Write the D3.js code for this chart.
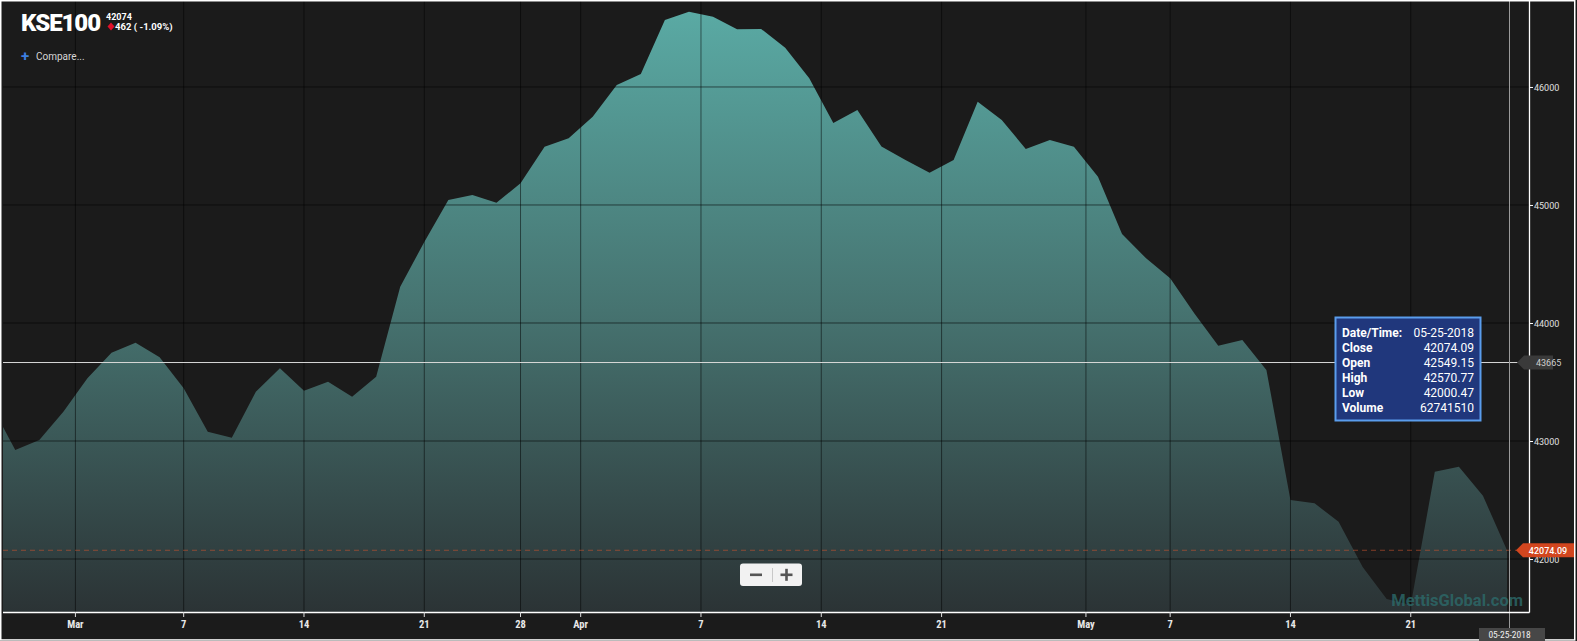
<!DOCTYPE html>
<html><head><meta charset="utf-8">
<script src="https://cdn.jsdelivr.net/npm/d3@7"></script>
<style>body{margin:0;background:#1b1b1b;overflow:hidden} svg{display:block}</style>
</head><body><svg id="c" width="1577" height="641"></svg>
<script>
// ---- data ----
const dates = ["2018-02-23","2018-02-26","2018-02-27","2018-02-28","2018-03-01","2018-03-02","2018-03-05","2018-03-06","2018-03-07","2018-03-08","2018-03-09","2018-03-12","2018-03-13","2018-03-14","2018-03-15","2018-03-16","2018-03-19","2018-03-20","2018-03-21","2018-03-22","2018-03-26","2018-03-27","2018-03-28","2018-03-29","2018-03-30","2018-04-02","2018-04-03","2018-04-04","2018-04-05","2018-04-06","2018-04-09","2018-04-10","2018-04-11","2018-04-12","2018-04-13","2018-04-16","2018-04-17","2018-04-18","2018-04-19","2018-04-20","2018-04-23","2018-04-24","2018-04-25","2018-04-26","2018-04-27","2018-04-30","2018-05-02","2018-05-03","2018-05-04","2018-05-07","2018-05-08","2018-05-09","2018-05-10","2018-05-11","2018-05-14","2018-05-15","2018-05-16","2018-05-17","2018-05-18","2018-05-21","2018-05-22","2018-05-23","2018-05-24","2018-05-25"];
const closes = [43305,42924,43008,43248,43531,43748,43833,43709,43447,43079,43028,43418,43616,43426,43503,43375,43545,44308,44686,45042,45085,45019,45184,45494,45565,45748,46017,46110,46568,46638,46596,46489,46492,46333,46074,45695,45805,45496,45381,45274,45381,45875,45720,45475,45551,45494,45240,44754,44548,44379,44082,43807,43856,43602,42500,42472,42316,41932,41661,41610,42740,42782,42536,42074.09];
const yTicks = [42000,43000,44000,45000,46000];
const xTickLabels = ["Mar","7","14","21","28","Apr","7","14","21","May","7","14","21"];
const xTickDates = ["2018-03-01","2018-03-07","2018-03-14","2018-03-21","2018-03-28","2018-04-01","2018-04-07","2018-04-14","2018-04-21","2018-05-01","2018-05-07","2018-05-14","2018-05-21"];
const xTickIsMonth = [true,false,false,false,false,true,false,false,false,true,false,false,false];
const tooltipLabels = ["Date/Time:","Close","Open","High","Low","Volume"];
const tooltipValues = ["05-25-2018","42074.09","42549.15","42570.77","42000.47","62741510"];
const crossValue = 43665;
const symbol = "KSE100", lastPx = "42074", change = "462 ( -1.09%)";

// ---- layout ----
const W = 1577, H = 641;
const L = 3, R = 1529, T = 0, B = 612;
const svg = d3.select("#c");
const x = d3.scaleLinear().domain([0, dates.length - 1]).range([-8.8, 1507]);
const y = d3.scaleLinear().domain([41551, 46737]).range([B, T]);

svg.append("rect").attr("width", W).attr("height", H).attr("fill", "#1b1b1b");
const defs = svg.append("defs");
const g = defs.append("linearGradient").attr("id", "ag").attr("gradientUnits", "userSpaceOnUse")
  .attr("x1", 0).attr("x2", 0).attr("y1", 10).attr("y2", B);
g.append("stop").attr("offset", 0).attr("stop-color", "#5aaaa4");
g.append("stop").attr("offset", 0.5).attr("stop-color", "#467370");
g.append("stop").attr("offset", 1).attr("stop-color", "#2b3335");
defs.append("clipPath").attr("id", "clip").append("rect").attr("x", L).attr("y", T).attr("width", R - L).attr("height", B - T);

const plot = svg.append("g").attr("clip-path", "url(#clip)");
const area = d3.area().x((d, i) => x(i)).y0(B).y1(d => y(d));
plot.append("path").datum(closes).attr("d", area).attr("fill", "url(#ag)");

// tick positions from dates
function tickPos(ds, month) {
  let idx = dates.findIndex(d => d >= ds);
  if (month || dates[idx] !== ds) return idx - 0.5;
  return idx;
}
const xTickPos = xTickDates.map((d, i) => tickPos(d, xTickIsMonth[i]));

// grid
plot.selectAll("line.vg").data(xTickPos).join("line")
  .attr("x1", d => x(d)).attr("x2", d => x(d)).attr("y1", T).attr("y2", B)
  .attr("stroke", "#000").attr("stroke-opacity", 0.5).attr("stroke-width", 1);
plot.selectAll("line.hg").data(yTicks).join("line")
  .attr("x1", L).attr("x2", R).attr("y1", d => y(d)).attr("y2", d => y(d))
  .attr("stroke", "#000").attr("stroke-opacity", 0.55).attr("stroke-width", 1);

// watermark
svg.append("text").attr("x", 1523).attr("y", 606).attr("text-anchor", "end")
  .attr("font-family", "Roboto, sans-serif").attr("font-weight", "bold").attr("font-size", 16.5)
  .attr("fill", "#2c6b6b").attr("fill-opacity", 0.8).text("MettisGlobal.com");

// last price dashed line
const lastClose = closes[closes.length - 1];
svg.append("line").attr("x1", L).attr("x2", 1519).attr("y1", y(lastClose)).attr("y2", y(lastClose))
  .attr("stroke", "#c8532e").attr("stroke-opacity", 0.6).attr("stroke-dasharray", "5,4");

// crosshair
svg.append("line").attr("x1", L).attr("x2", 1521).attr("y1", y(crossValue)).attr("y2", y(crossValue))
  .attr("stroke", "#d8d8d8").attr("stroke-width", 1);
const cx = Math.round(x(dates.length - 1)) + 2.5;
svg.append("line").attr("x1", cx).attr("x2", cx).attr("y1", 0).attr("y2", 628)
  .attr("stroke", "#9a9a9a").attr("stroke-width", 1);

// frames
svg.append("line").attr("x1", R + 0.5).attr("x2", R + 0.5).attr("y1", 0).attr("y2", B + 0.5).attr("stroke", "#fff").attr("stroke-width", 1.3);
svg.append("line").attr("x1", L).attr("x2", R + 0.5).attr("y1", B + 0.5).attr("y2", B + 0.5).attr("stroke", "#fff").attr("stroke-width", 1.3);
svg.append("rect").attr("x", 0.75).attr("y", 0.75).attr("width", W - 3).attr("height", H - 1.8)
  .attr("fill", "none").attr("stroke", "#fff").attr("stroke-width", 1.5);

// y axis
const ya = svg.append("g");
ya.selectAll("line").data(yTicks).join("line").attr("x1", R).attr("x2", R + 4)
  .attr("y1", d => y(d) + 0.5).attr("y2", d => y(d) + 0.5).attr("stroke", "#fff");
ya.selectAll("text").data(yTicks).join("text").attr("x", R + 5).attr("y", d => y(d) + 4)
  .attr("font-family", "Roboto, sans-serif").attr("font-size", 9).attr("fill", "#e0e0e0").text(d => d);

// x axis
const xa = svg.append("g");
xa.selectAll("line").data(xTickPos).join("line").attr("x1", d => x(d)).attr("x2", d => x(d))
  .attr("y1", B).attr("y2", B + 5).attr("stroke", "#ddd");
xa.selectAll("text").data(xTickPos).join("text").attr("x", d => x(d)).attr("y", 628)
  .attr("text-anchor", "middle").attr("font-family", "'Liberation Sans Narrow', 'Roboto Condensed', Roboto, sans-serif")
  .attr("font-stretch", "condensed").attr("font-weight", "bold").attr("font-size", 10.5).attr("fill", "#e8e8e8")
  .text((d, i) => xTickLabels[i]);

// crosshair value tag
const cy = y(crossValue);
svg.append("path").attr("d", `M1517,${cy} L1524,${cy - 7} L1553,${cy - 7} L1553,${cy + 7} L1524,${cy + 7} Z`).attr("fill", "#3a3a3a");
svg.append("text").attr("x", 1536).attr("y", cy + 3.5).attr("font-family", "Roboto, sans-serif").attr("font-size", 9)
  .attr("fill", "#cfcfcf").text(crossValue);

// last price tag
const ly = y(lastClose);
svg.append("path").attr("d", `M1516,${ly} L1523,${ly - 7} L1574,${ly - 7} L1574,${ly + 7} L1523,${ly + 7} Z`).attr("fill", "#d2461f");
svg.append("text").attr("x", 1548).attr("y", ly + 3.5).attr("text-anchor", "middle").attr("font-family", "Roboto, sans-serif")
  .attr("font-size", 9).attr("font-weight", "500").attr("fill", "#fff").text(lastClose.toFixed(2));

// date tag
svg.append("rect").attr("x", 1479).attr("y", 628).attr("width", 66).attr("height", 13).attr("fill", "#474747");
svg.append("text").attr("x", cx).attr("y", 638).attr("text-anchor", "middle")
  .attr("font-family", "'Liberation Sans Narrow', 'Roboto Condensed', Roboto, sans-serif").attr("font-stretch", "condensed")
  .attr("font-size", 9.5).attr("fill", "#eee").text(tooltipValues[0]);

// tooltip
const tt = svg.append("g");
tt.append("rect").attr("x", 1335.5).attr("y", 317.5).attr("width", 145).attr("height", 103)
  .attr("fill", "#20377c").attr("stroke", "#5a9ded").attr("stroke-width", 2);
tt.selectAll("text.l").data(tooltipLabels).join("text").attr("x", 1342).attr("y", (d, i) => 337 + i * 15)
  .attr("font-family", "Roboto, sans-serif").attr("font-weight", "bold").attr("font-size", 12).attr("fill", "#fff").text(d => d);
tt.selectAll("text.v").data(tooltipValues).join("text").attr("x", 1474).attr("y", (d, i) => 337 + i * 15)
  .attr("text-anchor", "end").attr("font-family", "Roboto, sans-serif").attr("font-size", 12).attr("fill", "#fff").text(d => d);

// header
svg.append("text").attr("x", 21).attr("y", 31).attr("font-family", "Roboto, sans-serif").attr("font-weight", "900")
  .attr("font-size", 24).attr("letter-spacing", -1.1).attr("fill", "#fff").text(symbol);
svg.append("text").attr("x", 106).attr("y", 19.5).attr("font-family", "Roboto, sans-serif").attr("font-weight", "bold")
  .attr("font-size", 9).attr("fill", "#fff").text(lastPx);
svg.append("path").attr("d", "M111,22.5 L114.5,26.5 L111,30.5 L107.5,26.5 Z").attr("fill", "#e0102a");
svg.append("text").attr("x", 115).attr("y", 30).attr("font-family", "Roboto, sans-serif").attr("font-weight", "bold")
  .attr("font-size", 9.5).attr("fill", "#fff").text(change);
svg.append("text").attr("x", 21).attr("y", 61).attr("font-family", "Roboto, sans-serif").attr("font-weight", "bold")
  .attr("font-size", 15).attr("fill", "#3d7fe0").text("+");
svg.append("text").attr("x", 36).attr("y", 60).attr("font-family", "Roboto, sans-serif")
  .attr("font-size", 10).attr("fill", "#d6d6d6").text("Compare...");

// zoom buttons
const zb = svg.append("g");
zb.append("rect").attr("x", 740).attr("y", 563.5).attr("width", 62).attr("height", 22.5).attr("rx", 3).attr("fill", "#f2f2f2");
zb.append("line").attr("x1", 772.5).attr("x2", 772.5).attr("y1", 568).attr("y2", 582).attr("stroke", "#c8c8c8");
zb.append("rect").attr("x", 750).attr("y", 573.5).attr("width", 12).attr("height", 2.6).attr("fill", "#555");
zb.append("rect").attr("x", 780.5).attr("y", 573.5).attr("width", 12).attr("height", 2.6).attr("fill", "#555");
zb.append("rect").attr("x", 785.2).attr("y", 568.8).attr("width", 2.6).attr("height", 12).attr("fill", "#555");
</script></body></html>
